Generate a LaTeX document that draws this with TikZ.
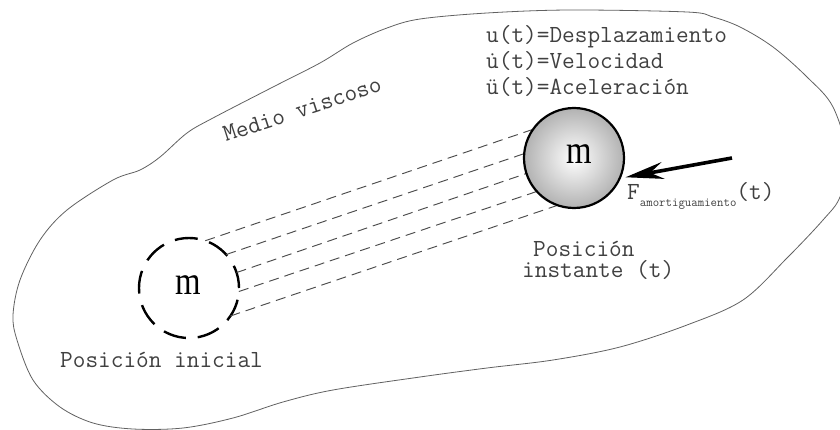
\documentclass[tikz,border=0pt]{standalone}
\usepackage{fontspec}
\usepackage{graphicx}
\newfontfamily\massfont{Liberation Serif}
\usetikzlibrary{arrows.meta,calc}

\definecolor{inkgray}{HTML}{404040}
\definecolor{rimgray}{HTML}{B2B2B2}

\tikzset{
  medium/.style={draw=black!62, line width=0.8pt},
  trail/.style={draw=black!70, line width=0.95pt, dash pattern=on 10pt off 6pt},
  ghost/.style={circle, minimum size=100pt, inner sep=0pt, outer sep=0pt,
                draw=black, line width=2.4pt, dash pattern=on 23pt off 11.9pt},
  body/.style={circle, minimum size=100pt, inner sep=0pt, outer sep=0pt,
               draw=black, line width=2.2pt, inner color=white, outer color=rimgray},
  masslabel/.style={inner sep=0pt, font=\massfont\fontsize{40}{40}\selectfont},
  label/.style={inner sep=0pt, anchor=base west, text=inkgray,
                font=\ttfamily\fontsize{24.6}{27}\selectfont},
  force/.style={line width=3.6pt, -{Stealth[length=38pt, width=17pt, inset=13pt]}}
}

\begin{document}
\begin{tikzpicture}[x=1pt, y=-1pt]
  \useasboundingbox (0,0) rectangle (840,430);
  \clip (0,0) rectangle (840,430);

  % outline of the viscous medium
  \draw[medium] plot[smooth cycle, tension=0.55] coordinates {
    (13,315) (20,280) (40,240) (67,210) (113,180) (140,170) (160,157)
    (187,133) (213,118) (273,87) (320,63) (353,43) (387,28) (420,19)
    (487,13) (570,10) (687,12) (713,17) (740,27) (773,47) (807,77)
    (833,107) (848,158) (840,197) (823,220) (787,258) (743,300)
    (687,325) (620,347) (553,360) (487,368) (420,377) (333,390)
    (283,402) (233,418) (183,428) (133,429) (93,423) (60,407)
    (33,380) (17,340)};

  % mass at the start and at time t
  \node[ghost] (ini) at (189,288) {};
  \node[body, draw=none, fill=none] (fin) at (574,158) {};

  % trajectory lines between both positions
  \foreach \o in {40,20,0,-20,-40}{
    \pgfmathsetmacro\sa{18.66+asin(\o/50)}
    \pgfmathsetmacro\ea{198.66-asin(\o/50)}
    \draw[trail] (ini.\sa) -- (fin.\ea);
  }

  \node[body] (finball) at (574,158) {};

  \node[masslabel] (mini) at (188,285) {\scalebox{0.82}[1]{m}};
  \node[masslabel] (mfin) at (579,154) {\scalebox{0.82}[1]{m}};

  % damping force
  \coordinate (ftail) at (732,158);
  \draw[force, shorten >=6pt] (ftail) -- (fin.-24);
  \node[label] (flabel) at (627,200)
    {F\raisebox{-7pt}{\fontsize{12.5}{12.5}\selectfont amortiguamiento}(t)};

  % texts
  \node[label] (disp) at (486,43) {u(t)=Desplazamiento};
  \node[label] (vel) at (486,69) {\.u(t)=Velocidad};
  \node[label] (acc) at (486,95) {ü(t)=Aceleración};

  \node[label, rotate=18] (medio) at (226,142) {Medio viscoso};

  \node[label] (post1) at (533,257) {Posición};
  \node[label] (post2) at (522,277) {instante (t)};
  \node[label] (posi) at (60,367) {Posición inicial};
\end{tikzpicture}
\end{document}
